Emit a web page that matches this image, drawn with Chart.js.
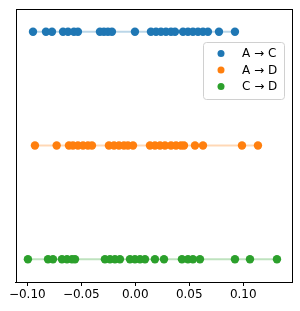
<!DOCTYPE html>
<html>
<head>
<meta charset="utf-8">
<script src="https://cdn.jsdelivr.net/npm/chart.js@4"></script>
<style>
  html, body { margin:0; padding:0; background:#fff; }
  #wrap { width:300px; height:311px; position:relative; }
</style>
</head>
<body>
<div id="wrap"><canvas id="chart" width="300" height="311"></canvas></div>
<script>
// rows, top to bottom
const categories = ['A → C', 'A → D', 'C → D'];
const colors = ['#1f77b4', '#ff7f0e', '#2ca02c'];
const lineColors = ['rgba(31,119,180,.3)', 'rgba(255,127,14,.3)', 'rgba(44,160,44,.3)'];

const valuesAC = [-0.0947, -0.0827, -0.0771, -0.0669, -0.0623, -0.0568, -0.0531, -0.0327, -0.0290, -0.0253, -0.0216,
  -0.0003, 0.0145, 0.0192, 0.0238, 0.0284, 0.0331, 0.0368, 0.0442, 0.0488, 0.0534, 0.0581, 0.0627, 0.0673, 0.0775, 0.0923];
const valuesAD = [-0.0929, -0.0728, -0.0614, -0.0577, -0.0531, -0.0484, -0.0438, -0.0401, -0.0244, -0.0197, -0.0151,
  -0.0105, -0.0068, -0.0021, 0.0136, 0.0182, 0.0229, 0.0275, 0.0331, 0.0377, 0.0423, 0.0451, 0.0553, 0.0627, 0.0988, 0.1136];
const valuesCD = [-0.0994, -0.0808, -0.0762, -0.0679, -0.0632, -0.0586, -0.0558, -0.0281, -0.0234, -0.0188, -0.0142,
  -0.0049, -0.0003, 0.0044, 0.0090, 0.0182, 0.0266, 0.0432, 0.0488, 0.0534, 0.0599, 0.0923, 0.1062, 0.1312];

const xTicks = [-0.10, -0.05, 0.00, 0.05, 0.10];
const series = [valuesAC, valuesAD, valuesCD];

const datasets = [];
series.forEach((vals, i) => {
  const sorted = vals.slice().sort((a,b)=>a-b);
  datasets.push({
    type:'line', label:'_line'+i, data: sorted.map(v => ({x:v, y:i})),
    borderColor: lineColors[i], borderWidth: 2, pointRadius: 0, order: 2
  });
});
series.forEach((vals, i) => {
  datasets.push({
    type:'scatter', label: categories[i], data: vals.map(v => ({x:v, y:i})),
    backgroundColor: colors[i], borderWidth: 0, pointRadius: 4.2, order: 1
  });
});

const frame = {
  id:'frame',
  afterDatasetsDraw(chart){
    const {ctx, chartArea:a} = chart;
    ctx.save();
    ctx.strokeStyle = '#000'; ctx.lineWidth = 1;
    ctx.strokeRect(Math.round(a.left)+0.5, Math.round(a.top)+0.5, Math.round(a.right-a.left), Math.round(a.bottom-a.top));
    // legend
    const bx = 203.5, by = 42.5, bw = 81, bh = 57;
    ctx.fillStyle = 'rgba(255,255,255,.8)';
    ctx.strokeStyle = '#d0d0d0';
    ctx.beginPath(); ctx.roundRect(bx, by, bw, bh, 3); ctx.fill(); ctx.stroke();
    ctx.font = '12px "DejaVu Sans"';
    ctx.textBaseline = 'middle';
    categories.forEach((c, i) => {
      const y = 53.5 + i*16.5;
      ctx.fillStyle = colors[i];
      ctx.beginPath(); ctx.arc(221, y, 3.5, 0, Math.PI*2); ctx.fill();
      ctx.fillStyle = '#000';
      ctx.fillText(c, 242, y + 0.5);
    });
    ctx.restore();
  }
};

new Chart(document.getElementById('chart'), {
  data: { datasets },
  options: {
    responsive:false, animation:false,
    layout: { padding: { left: 15.5, right: 9, top: 9, bottom: 0 } },
    plugins: { legend:{ display:false }, tooltip:{ enabled:false } },
    scales: {
      x: {
        type:'linear', min:-0.1109, max:0.1442,
        afterBuildTicks: s => { s.ticks = xTicks.map(v => ({value:v})); },
        afterFit: s => { s.height = 29; },
        grid: { display:true, drawOnChartArea:false, drawTicks:true, tickLength:4, color:'#000' },
        border: { display:true, color:'#000' },
        ticks: {
          color:'#000', padding:2, maxRotation:0, autoSkip:false,
          font:{ family:'DejaVu Sans', size:12 },
          callback: v => (v < 0 ? '\u2212' : '') + Math.abs(v).toFixed(2)
        }
      },
      y: { type:'linear', min:-0.2, max:2.2, reverse:true, display:false }
    }
  },
  plugins:[frame]
});
</script>
</body>
</html>
